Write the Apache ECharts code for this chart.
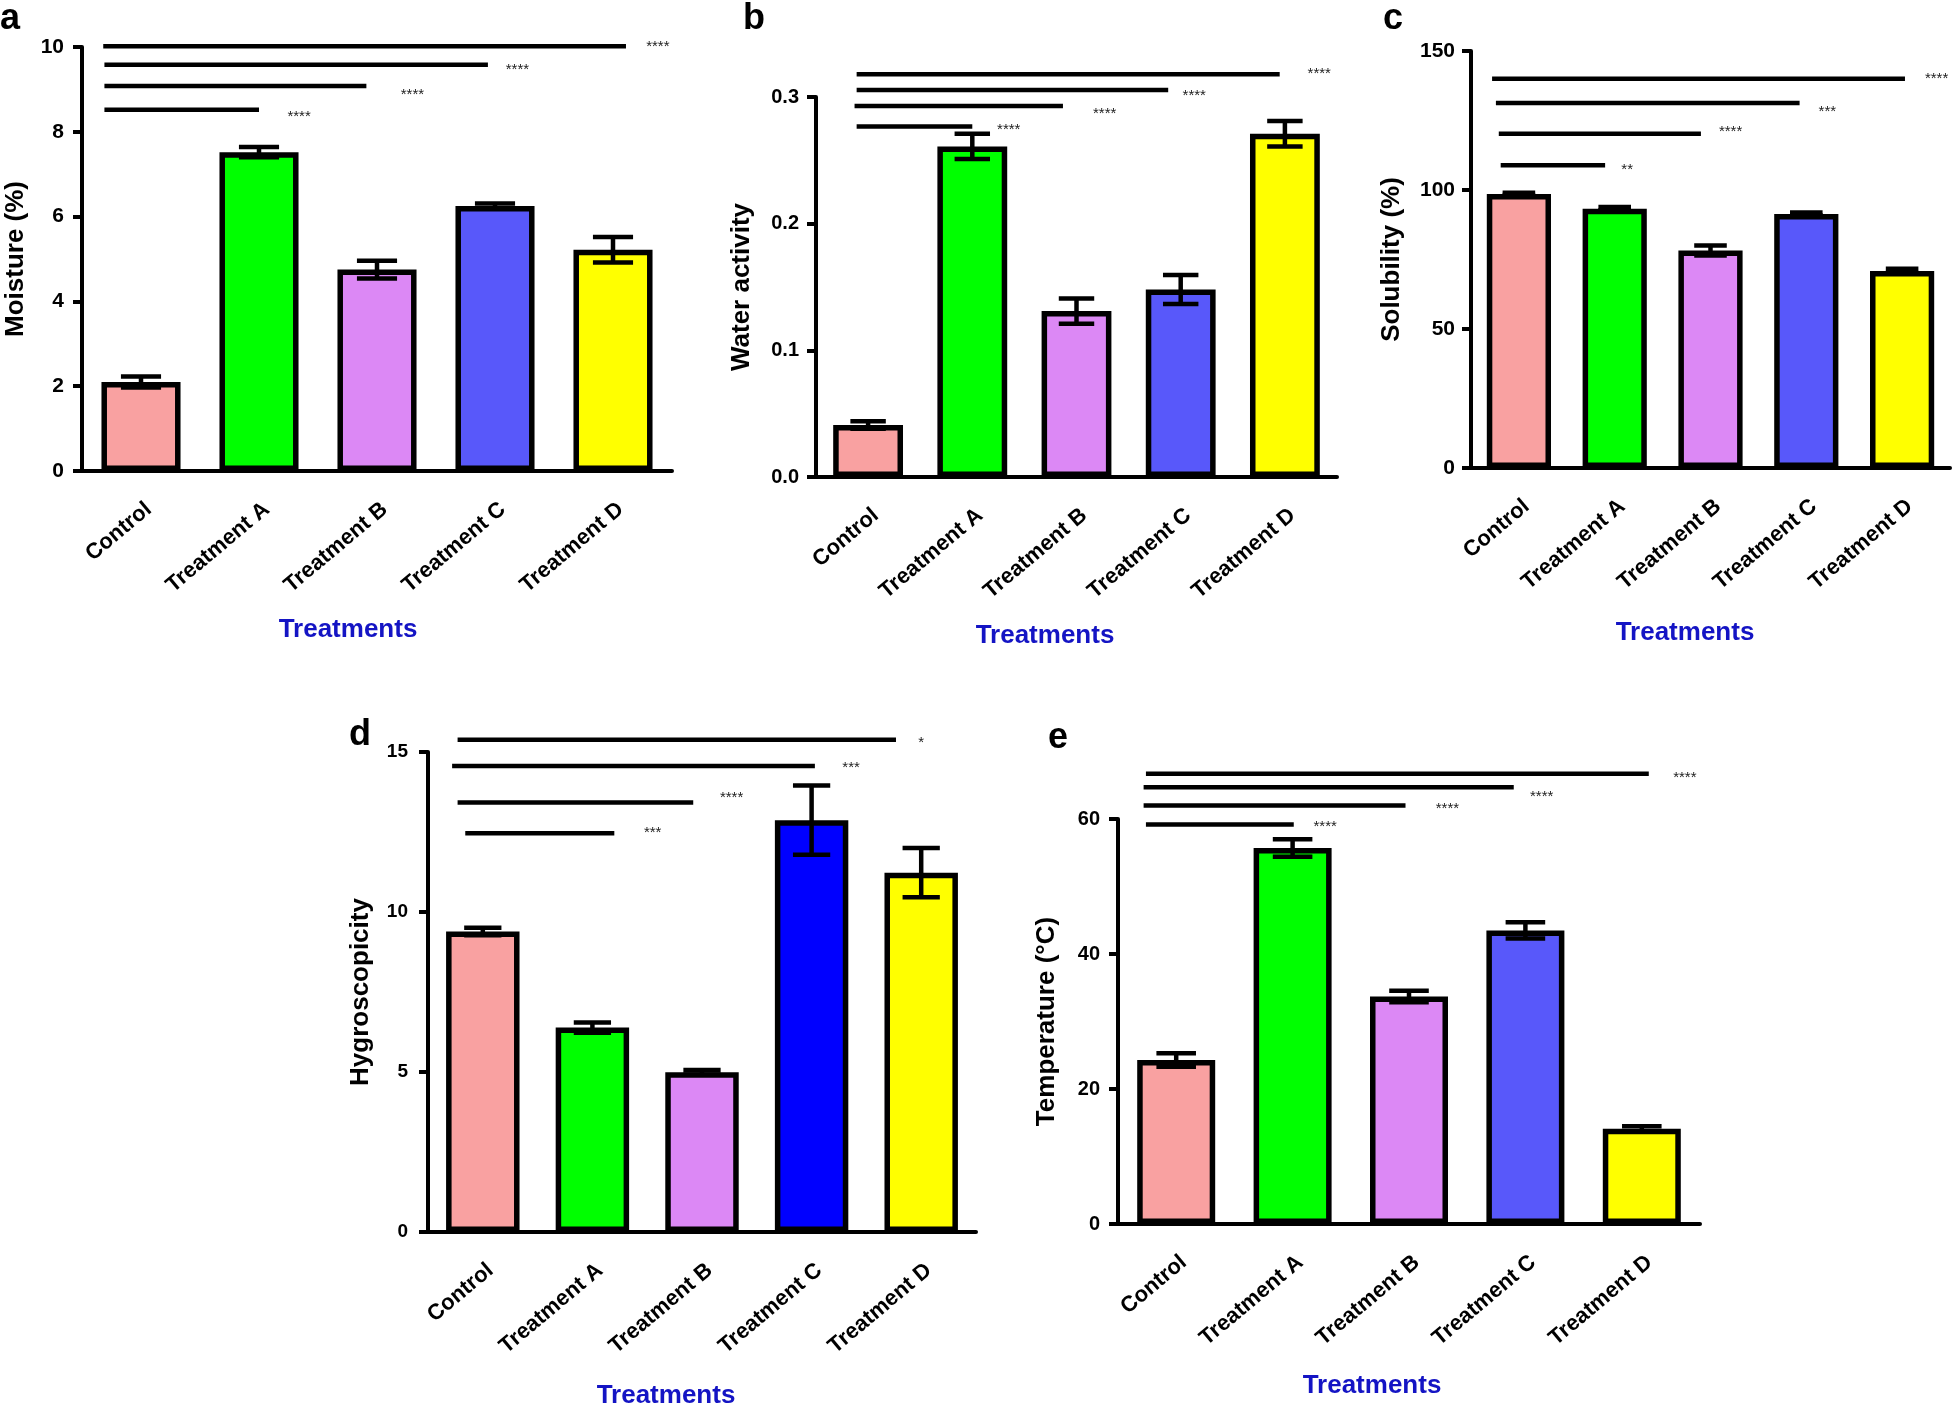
<!DOCTYPE html>
<html><head><meta charset="utf-8">
<script src="https://cdn.jsdelivr.net/npm/echarts@6/dist/echarts.min.js"></script>
<style>html,body{margin:0;padding:0;background:#fff}#chart{width:1953px;height:1406px}</style>
</head><body><div id="chart"></div>
<script>
const categories = ['Control', 'Treatment A', 'Treatment B', 'Treatment C', 'Treatment D'];

const moisture = [2.10, 7.52, 4.75, 6.25, 5.22];
const moistureErr = [0.13, 0.12, 0.21, 0.06, 0.30];
const waterActivity = [0.041, 0.261, 0.131, 0.148, 0.271];
const waterActivityErr = [0.003, 0.010, 0.010, 0.0115, 0.010];
const solubility = [98.6, 93.3, 78.2, 91.4, 70.9];
const solubilityErr = [0.4, 0.6, 1.8, 0.5, 0.8];
const hygroscopicity = [9.39, 6.39, 4.99, 12.87, 11.23];
const hygroscopicityErr = [0.12, 0.16, 0.07, 1.08, 0.77];
const temperature = [24.3, 55.7, 33.7, 43.5, 14.1];
const temperatureErr = [1.0, 1.3, 0.85, 1.2, 0.4];

// significance brackets: [from (category units), to, level, label x, label y, label]
const moistureSig = [[-0.32, 4.11, 10.02, 4.38, 10.0, '****'], [-0.31, 2.94, 9.58, 3.19, 9.47, '****'], [-0.31, 1.91, 9.08, 2.30, 8.86, '****'], [-0.31, 1.0, 8.52, 1.34, 8.35, '****']];
const waterActivitySig = [[-0.11, 3.95, 0.318, 4.33, 0.318, '****'], [-0.11, 2.88, 0.3056, 3.13, 0.301, '****'], [-0.13, 1.87, 0.2929, 2.27, 0.287, '****'], [-0.11, 1.0, 0.2768, 1.35, 0.274, '****']];
const solubilitySig = [[-0.28, 4.03, 140.0, 4.36, 140, '****'], [-0.24, 2.93, 131.3, 3.22, 128.2, '***'], [-0.21, 1.90, 120.2, 2.21, 121, '****'], [-0.19, 0.90, 108.9, 1.13, 107.2, '**']];
const hygroscopicitySig = [[-0.23, 3.77, 15.38, 4.0, 15.3, '*'], [-0.28, 3.03, 14.56, 3.36, 14.5, '***'], [-0.23, 1.92, 13.42, 2.27, 13.58, '****'], [-0.16, 1.20, 12.46, 1.55, 12.48, '***']];
const temperatureSig = [[-0.26, 4.06, 66.7, 4.37, 66.1, '****'], [-0.28, 2.90, 64.7, 3.14, 63.3, '****'], [-0.28, 1.97, 62.0, 2.33, 61.5, '****'], [-0.26, 1.01, 59.2, 1.28, 58.9, '****']];

const colorsMain = ['#F9A1A1', '#00FF00', '#DC88F5', '#5858FA', '#FFFF00'];
const colorsD = ['#F9A1A1', '#00FF00', '#DC88F5', '#0000FF', '#FFFF00'];
const FONT = "'Liberation Sans', Arial, Helvetica, sans-serif";

const panels = [
  {letter: 'a', values: moisture, errs: moistureErr, sig: moistureSig, yName: 'Moisture (%)', max: 10, interval: 2, dec: 0,
   grid: {left: 82, top: 47, width: 590, height: 424}, nameGap: 53, tickSize: 21, labelMargin: 18, colors: colorsMain, letterPos: [10, 19], titlePos: [348, 630]},
  {letter: 'b', values: waterActivity, errs: waterActivityErr, sig: waterActivitySig, yName: 'Water activity', max: 0.3, interval: 0.1, dec: 1,
   grid: {left: 816, top: 97, width: 521, height: 380}, nameGap: 61, tickSize: 20, labelMargin: 17, colors: colorsMain, letterPos: [754, 19], titlePos: [1045, 636]},
  {letter: 'c', values: solubility, errs: solubilityErr, sig: solubilitySig, yName: 'Solubility (%)', max: 150, interval: 50, dec: 0,
   grid: {left: 1471, top: 51, width: 479, height: 417}, nameGap: 66, tickSize: 21, labelMargin: 16, colors: colorsMain, letterPos: [1393, 19], titlePos: [1685, 633]},
  {letter: 'd', values: hygroscopicity, errs: hygroscopicityErr, sig: hygroscopicitySig, yName: 'Hygroscopicity', max: 15, interval: 5, dec: 0,
   grid: {left: 428, top: 752, width: 548, height: 480}, nameGap: 54, tickSize: 19, labelMargin: 20, colors: colorsD, letterPos: [360, 735], titlePos: [666, 1396]},
  {letter: 'e', values: temperature, errs: temperatureErr, sig: temperatureSig, yName: 'Temperature (°C)', max: 60, interval: 20, dec: 0,
   grid: {left: 1118, top: 819, width: 582, height: 405}, nameGap: 58, tickSize: 20, labelMargin: 18, colors: colorsMain, letterPos: [1058, 738], titlePos: [1372, 1386]}
];

const grid = [], xAxis = [], yAxis = [], series = [], graphic = [];

panels.forEach((p, i) => {
  grid.push(Object.assign({containLabel: false}, p.grid));
  xAxis.push({
    gridIndex: i, type: 'category', data: categories,
    axisLine: {onZero: false, lineStyle: {color: '#000', width: 4}},
    axisTick: {alignWithLabel: true, length: 9, lineStyle: {color: '#000', width: 4}},
    axisLabel: {rotate: 40, interval: 0, fontSize: 22, fontWeight: 'bold', color: '#000', fontFamily: FONT,
      margin: 42, padding: [0, -10, 0, 0]},
    splitLine: {show: false}
  });
  xAxis.push({gridIndex: i, type: 'value', min: -0.5, max: 4.5, show: false});
  yAxis.push({
    gridIndex: i, type: 'value', min: 0, max: p.max, interval: p.interval,
    name: p.yName, nameLocation: 'middle', nameGap: p.nameGap,
    nameTextStyle: {fontSize: 26, fontWeight: 'bold', color: '#000', fontFamily: FONT},
    axisLine: {show: true, onZero: false, lineStyle: {color: '#000', width: 4}},
    axisTick: {show: true, length: 9, lineStyle: {color: '#000', width: 4}},
    axisLabel: {fontSize: p.tickSize, fontWeight: 'bold', color: '#000', fontFamily: FONT, margin: p.labelMargin,
      formatter: v => Number(v).toFixed(p.dec)},
    splitLine: {show: false}
  });
  series.push({
    type: 'bar', xAxisIndex: 2 * i, yAxisIndex: i, barWidth: '67%', z: 2,
    itemStyle: {borderColor: '#000', borderWidth: 5.5},
    data: p.values.map((v, j) => ({value: v, itemStyle: {color: p.colors[j]}}))
  });
  series.push({
    type: 'custom', xAxisIndex: 2 * i, yAxisIndex: i, z: 3,
    data: p.values.map((v, j) => [j, v, p.errs[j]]),
    encode: {x: 0, y: 1},
    renderItem: (params, api) => {
      const x = api.value(0), m = api.value(1), e = api.value(2);
      const top = api.coord([x, m + e]), bot = api.coord([x, m - e]);
      const hw = api.size([1, 0])[0] * 0.17;
      const st = {stroke: '#000', lineWidth: 4.5};
      return {type: 'group', children: [
        {type: 'line', shape: {x1: top[0], y1: top[1], x2: bot[0], y2: bot[1]}, style: st},
        {type: 'line', shape: {x1: top[0] - hw, y1: top[1], x2: top[0] + hw, y2: top[1]}, style: st},
        {type: 'line', shape: {x1: bot[0] - hw, y1: bot[1], x2: bot[0] + hw, y2: bot[1]}, style: st}
      ]};
    }
  });
  series.push({
    type: 'custom', xAxisIndex: 2 * i + 1, yAxisIndex: i, z: 4, clip: false,
    data: p.sig.map(s => [s[0], s[2], s[1], s[3], s[4]]),
    renderItem: (params, api) => {
      const s = p.sig[params.dataIndex];
      const a = api.coord([s[0], s[2]]), b = api.coord([s[1], s[2]]), t = api.coord([s[3], s[4]]);
      return {type: 'group', children: [
        {type: 'line', shape: {x1: a[0], y1: a[1], x2: b[0], y2: b[1]}, style: {stroke: '#000', lineWidth: 4.5}},
        {type: 'text', x: t[0], y: t[1], style: {text: s[5], align: 'center', verticalAlign: 'middle', textAlign: 'center', textVerticalAlign: 'middle', font: '15px ' + FONT, fill: '#222'}}
      ]};
    }
  });
  graphic.push({type: 'text', x: p.letterPos[0], y: p.letterPos[1],
    style: {text: p.letter, align: 'center', verticalAlign: 'middle', textAlign: 'center', textVerticalAlign: 'middle', font: 'bold 36px ' + FONT, fill: '#000'}});
  graphic.push({type: 'text', x: p.titlePos[0], y: p.titlePos[1],
    style: {text: 'Treatments', align: 'center', verticalAlign: 'middle', textAlign: 'center', textVerticalAlign: 'middle', font: 'bold 26px ' + FONT, fill: '#1414C4'}});
});

const chart = echarts.init(document.getElementById('chart'), null, {renderer: 'canvas'});
chart.setOption({backgroundColor: '#fff', animation: false, grid, xAxis, yAxis, series, graphic});
</script>
</body></html>
